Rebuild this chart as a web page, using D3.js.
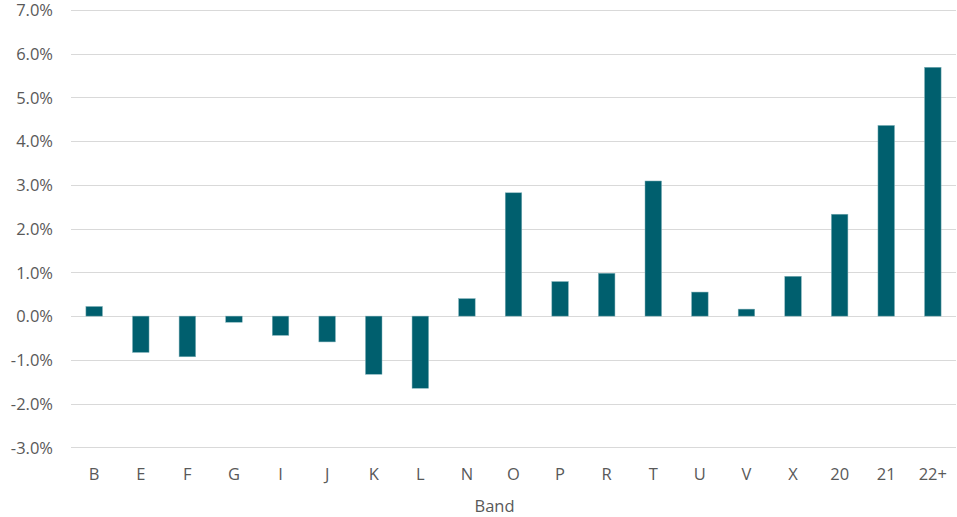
<!DOCTYPE html>
<html><head><meta charset="utf-8">
<script src="https://cdn.jsdelivr.net/npm/d3@7"></script>
<style>
html,body{margin:0;padding:0;background:#fff;}
text{font-family:"Open Sans","Noto Sans",sans-serif;}
</style></head>
<body>
<svg id="chart" width="957" height="517"></svg>
<script>
const categories = ["B","E","F","G","I","J","K","L","N","O","P","R","T","U","V","X","20","21","22+"];
const values = [0.22,-0.83,-0.93,-0.14,-0.44,-0.59,-1.33,-1.65,0.40,2.82,0.79,0.98,3.09,0.55,0.16,0.91,2.33,4.36,5.69];
const yTicks = [-3,-2,-1,0,1,2,3,4,5,6,7];
const xTitle = "Band";

const svg = d3.select("#chart");
const mLeft = 71, mRight = 956, mTop = 10, mBottom = 447.3;
const fontSize = "16.5px";

const x = d3.scaleBand().domain(categories).range([mLeft, mRight]).paddingInner(0.645).paddingOuter(0.32);
const y = d3.scaleLinear().domain([-3, 7]).range([mBottom, mTop]);

// gridlines
svg.append("g").selectAll("line").data(yTicks).join("line")
  .attr("x1", mLeft).attr("x2", mRight)
  .attr("y1", d => Math.round(y(d)) + 0.5).attr("y2", d => Math.round(y(d)) + 0.5)
  .attr("stroke", "#d9d9d9").attr("stroke-width", 1);

// y axis labels
const yAxis = d3.axisLeft(y).tickValues(yTicks).tickFormat(d => d.toFixed(1) + "%").tickSize(0).tickPadding(0);
const gy = svg.append("g").attr("transform", `translate(${53},0)`).call(yAxis);
gy.select(".domain").remove();
gy.selectAll("text").attr("fill", "#595959").style("font-size", fontSize).attr("dy", "0.35em");

// bars
svg.append("g").selectAll("rect").data(values).join("rect")
  .attr("x", (d, i) => x(categories[i]))
  .attr("width", x.bandwidth())
  .attr("y", d => y(Math.max(0, d)))
  .attr("height", d => Math.abs(y(d) - y(0)))
  .attr("fill", "#005f6e")
  .attr("stroke", "#7fb0b8").attr("stroke-width", 0.5);

// x axis labels
const xAxis = d3.axisBottom(x).tickSize(0).tickPadding(0);
const gx = svg.append("g").attr("transform", `translate(0,${480})`).call(xAxis);
gx.select(".domain").remove();
gx.selectAll("text").attr("fill", "#595959").style("font-size", fontSize).attr("dy", "0");

svg.append("text").attr("x", 494.5).attr("y", 511.5)
  .attr("text-anchor", "middle").attr("fill", "#595959").style("font-size", fontSize).text(xTitle);
</script>
</body></html>
